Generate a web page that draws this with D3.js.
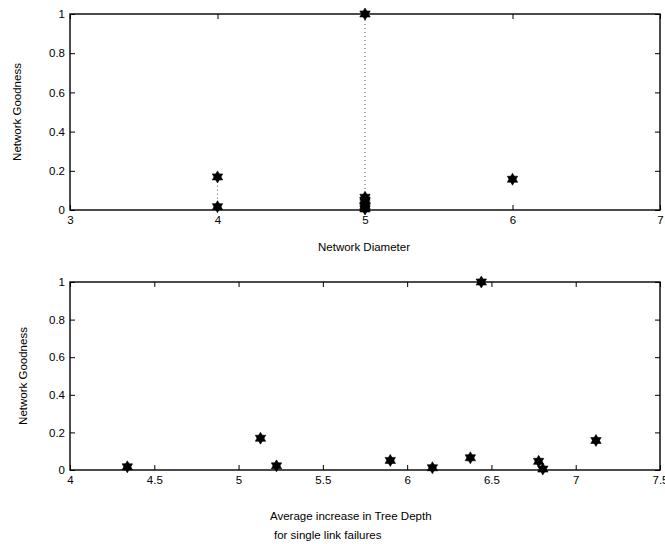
<!DOCTYPE html>
<html><head><meta charset="utf-8">
<script src="https://cdn.jsdelivr.net/npm/d3@7"></script>
<style>
body{margin:0;background:#fff;}
svg{display:block;font-family:"Liberation Sans",Arial,sans-serif;}
.tick text{font-size:11.5px;fill:#000;}
.lbl{font-size:11.5px;fill:#000;}
</style></head>
<body>
<script>
// Data
const diameter = [4, 4, 5, 5, 5, 5, 5, 5, 5, 6];
const treeDepth = [4.34, 5.13, 5.225, 5.90, 6.15, 6.375, 6.44, 6.78, 6.805, 7.12];
const goodness = [0.017, 0.169, 0.022, 0.051, 0.012, 0.065, 1.0, 0.046, 0.005, 0.157];
const diamTicks = [3, 4, 5, 6, 7];
const depthTicks = [4, 4.5, 5, 5.5, 6, 6.5, 7, 7.5];
const yTicks = [0, 0.2, 0.4, 0.6, 0.8, 1];

const W = 665, H = 544;
const svg = d3.select("body").append("svg").attr("width", W).attr("height", H);

function hexagram(r){
  const p = d3.path();
  for (const off of [-Math.PI/2, Math.PI/2]) {
    for (let i = 0; i < 3; i++) {
      const a = off + i * 2 * Math.PI / 3;
      const x = r * Math.cos(a), y = r * Math.sin(a);
      if (i === 0) p.moveTo(x, y); else p.lineTo(x, y);
    }
    p.closePath();
  }
  return p.toString();
}
const star = hexagram(6);

function panel(cfg){
  const {x0, x1, y0, y1, xDom, xTicks, xs, ys, fmtX, dotted} = cfg;
  const x = d3.scaleLinear().domain(xDom).range([x0, x1]);
  const y = d3.scaleLinear().domain([0, 1]).range([y1, y0]);
  const g = svg.append("g");
  const yfmt = d => d === 0 ? "0" : d === 1 ? "1" : d3.format(".1f")(d);

  g.append("g").attr("transform", `translate(0,${y1})`)
    .call(d3.axisBottom(x).tickValues(xTicks).tickSize(-5).tickPadding(6).tickFormat(fmtX))
    .call(s => s.select(".domain").remove());
  g.append("g").attr("transform", `translate(0,${y0})`)
    .call(d3.axisTop(x).tickValues(xTicks).tickSize(-5).tickFormat(""))
    .call(s => s.select(".domain").remove());
  g.append("g").attr("transform", `translate(${x0},0)`)
    .call(d3.axisLeft(y).tickValues(yTicks).tickSize(-5).tickPadding(5).tickFormat(yfmt))
    .call(s => s.select(".domain").remove());
  g.append("g").attr("transform", `translate(${x1},0)`)
    .call(d3.axisRight(y).tickValues(yTicks).tickSize(-5).tickFormat(""))
    .call(s => s.select(".domain").remove());
  g.selectAll(".tick line").attr("stroke", "#000").attr("stroke-width", 1);

  if (dotted) {
    const groups = d3.groups(d3.range(xs.length), i => xs[i]);
    for (const [xv, idx] of groups) {
      const vals = idx.map(i => ys[i]);
      g.append("line")
        .attr("x1", x(xv)).attr("x2", x(xv))
        .attr("y1", y(d3.min(vals))).attr("y2", y(d3.max(vals)))
        .attr("stroke", "#555").attr("stroke-width", 1)
        .attr("stroke-dasharray", "1,3");
    }
  }

  g.append("rect").attr("x", x0).attr("y", y0).attr("width", x1 - x0).attr("height", y1 - y0)
    .attr("fill", "none").attr("stroke", "#000").attr("stroke-width", 1.4);

  g.selectAll("path.pt").data(d3.range(xs.length)).join("path")
    .attr("class", "pt")
    .attr("d", star)
    .attr("transform", i => `translate(${x(xs[i])},${y(ys[i])})`)
    .attr("fill", "#000").attr("stroke", "#000").attr("stroke-width", 0.6);
  return g;
}

panel({x0: 70, x1: 660, y0: 14, y1: 210, xDom: [3, 7], xTicks: diamTicks,
       xs: diameter, ys: goodness, fmtX: d3.format("d"), dotted: true});
panel({x0: 70, x1: 660, y0: 282, y1: 470, xDom: [4, 7.5], xTicks: depthTicks,
       xs: treeDepth, ys: goodness, fmtX: d => String(d), dotted: false});

svg.append("text").attr("class", "lbl").attr("text-anchor", "middle")
  .attr("transform", "translate(21,112) rotate(-90)").text("Network Goodness");
svg.append("text").attr("class", "lbl").attr("text-anchor", "middle")
  .attr("transform", "translate(27,376) rotate(-90)").text("Network Goodness");
svg.append("text").attr("class", "lbl").attr("text-anchor", "middle")
  .attr("x", 364).attr("y", 251).text("Network Diameter");
svg.append("text").attr("class", "lbl").attr("text-anchor", "start")
  .attr("x", 270).attr("y", 520).text("Average increase in Tree Depth");
svg.append("text").attr("class", "lbl").attr("text-anchor", "start")
  .attr("x", 274).attr("y", 539).text("for single link failures");
</script>
</body></html>
